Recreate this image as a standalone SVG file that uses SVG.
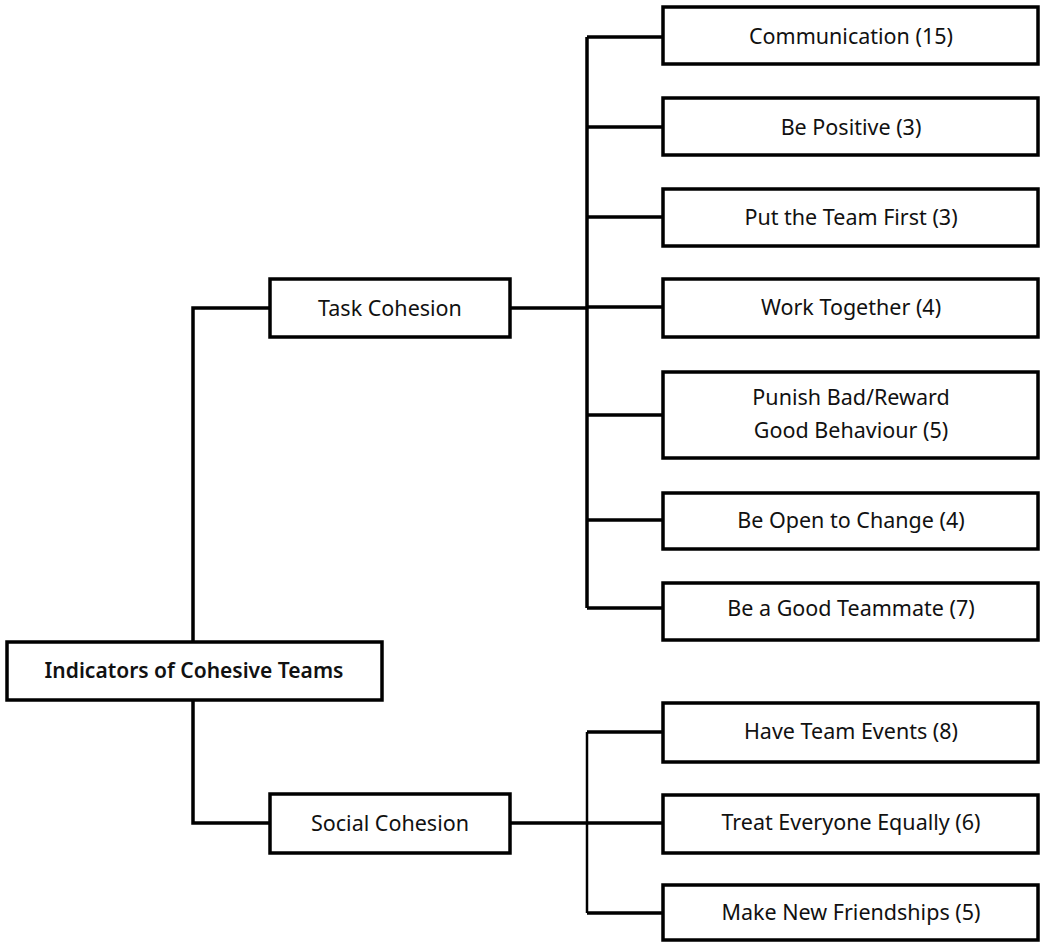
<svg xmlns="http://www.w3.org/2000/svg" width="1042" height="943" viewBox="0 0 1042 943">
<style>
.box{fill:#fff;stroke:#000;stroke-width:3.5}
.t{font-family:"Noto Sans","Open Sans",sans-serif;font-size:21.5px;fill:#111;text-anchor:middle;dominant-baseline:central}
.b{font-weight:600;font-size:21px}
.ln{fill:none;stroke:#000;stroke-width:3.5}
.ln2{fill:none;stroke:#000;stroke-width:2.5}
</style>
<rect width="1042" height="943" fill="#fff"/>
<g id="connectors">
<path class="ln" d="M193 642V308H270"/>
<path class="ln" d="M193 700V823H270"/>
<path class="ln" d="M510 308H587"/>
<path class="ln" d="M587 37V608"/>
<path class="ln" d="M587 37H663M587 127H663M587 217H663M587 307H663M587 415H663M587 520H663M587 608H663"/>
<path class="ln" d="M510 823H663"/>
<path class="ln2" d="M587 732V913"/>
<path class="ln" d="M587 732H663M587 913H663"/>
</g>
<g id="root"><rect class="box" x="7" y="642" width="375" height="58"/><text class="t b" x="194" y="670">Indicators of Cohesive Teams</text></g>
<g id="task"><rect class="box" x="270" y="279" width="240" height="58"/><text class="t" x="390" y="307">Task Cohesion</text></g>
<g id="social"><rect class="box" x="270" y="794" width="240" height="59"/><text class="t" x="390" y="822">Social Cohesion</text></g>
<g id="n1"><rect class="box" x="663" y="7" width="375" height="57"/><text class="t" x="851" y="35">Communication (15)</text></g>
<g id="n2"><rect class="box" x="663" y="98" width="375" height="57"/><text class="t" x="851" y="126">Be Positive (3)</text></g>
<g id="n3"><rect class="box" x="663" y="189" width="375" height="57"/><text class="t" x="851" y="216">Put the Team First (3)</text></g>
<g id="n4"><rect class="box" x="663" y="279" width="375" height="58"/><text class="t" x="851" y="306">Work Together (4)</text></g>
<g id="n5"><rect class="box" x="663" y="372" width="375" height="86"/><text class="t" x="851" y="396">Punish Bad/Reward</text><text class="t" x="851" y="429">Good Behaviour (5)</text></g>
<g id="n6"><rect class="box" x="663" y="493" width="375" height="56"/><text class="t" x="851" y="519">Be Open to Change (4)</text></g>
<g id="n7"><rect class="box" x="663" y="583" width="375" height="57"/><text class="t" x="851" y="607">Be a Good Teammate (7)</text></g>
<g id="s1"><rect class="box" x="663" y="703" width="375" height="59"/><text class="t" x="851" y="730">Have Team Events (8)</text></g>
<g id="s2"><rect class="box" x="663" y="795" width="375" height="58"/><text class="t" x="851" y="821">Treat Everyone Equally (6)</text></g>
<g id="s3"><rect class="box" x="663" y="885" width="375" height="55"/><text class="t" x="851" y="911">Make New Friendships (5)</text></g>
</svg>
